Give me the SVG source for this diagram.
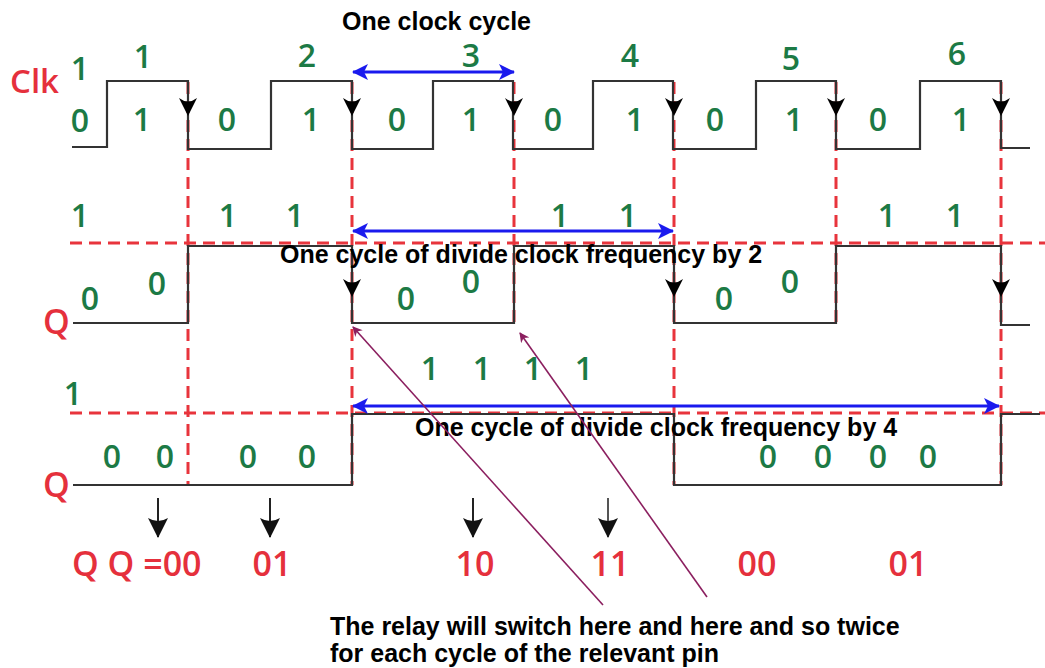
<svg xmlns="http://www.w3.org/2000/svg" width="1045" height="668" viewBox="0 0 1045 668">
<style>
.wave{fill:none;stroke:#333;stroke-width:2.2}
.dash{fill:none;stroke:#e8343c;stroke-width:3;stroke-dasharray:12 7}
.g{font-family:"Open Sans","DejaVu Sans",sans-serif;font-weight:600;font-size:32px;fill:#1c7a45;text-anchor:middle}
.r{font-family:"Open Sans","DejaVu Sans",sans-serif;font-weight:600;font-size:34px;fill:#e5303c}
.b{font-family:"Liberation Sans",Arial,sans-serif;font-weight:bold;font-size:25px;fill:#000}
.blue{stroke:#1a1aee;stroke-width:3;fill:none;marker-start:url(#bh);marker-end:url(#bh)}
.down{stroke:#222;stroke-width:2;fill:none;marker-end:url(#dh)}
.purple{stroke:#8b1f5f;stroke-width:1.6;fill:none;marker-end:url(#ph)}
.edge{fill:#000}
</style>
<defs>
<marker id="bh" viewBox="0 0 16 16" refX="15" refY="8" markerWidth="16" markerHeight="16" markerUnits="userSpaceOnUse" orient="auto-start-reverse">
<path d="M0,0 L16,8 L0,16 L4,8 Z" fill="#1a1aee"/>
</marker>
<marker id="dh" viewBox="0 0 20 20" refX="10" refY="19" markerWidth="20" markerHeight="20" markerUnits="userSpaceOnUse" orient="0">
<path d="M0,0 Q10,6 20,0 L10,20 Z" fill="#111"/>
</marker>
<marker id="ph" viewBox="0 0 10 10" refX="9" refY="5" markerWidth="10" markerHeight="10" markerUnits="userSpaceOnUse" orient="auto">
<path d="M0,0 L10,5 L0,10 L3,5 Z" fill="#8b1f5f"/>
</marker>
</defs>

<g id="grid">
<path class="dash" d="M70,243 H1045 M70,413 H1045"/>
<path class="dash" d="M188,82 V485 M352,82 V485 M514,82 V323 M674,82 V485 M836,82 V323 M1001,82 V485"/>
</g>

<g id="clk-wave">
<path class="wave" d="M72,147 H107 V81 H188 V149 H271 V81 H352 V149 H433 V81 H513 V149 H593 V81 H673 V149 H756 V81 H836 V149 H920 V81 H1001 V148 H1030"/>
<g class="edge">
<path d="M179,98 Q188,105 197,98 L188,116 Z"/>
<path d="M343,98 Q352,105 361,98 L352,116 Z"/>
<path d="M505,98 Q514,105 523,98 L514,116 Z"/>
<path d="M665,98 Q674,105 683,98 L674,116 Z"/>
<path d="M827,98 Q836,105 845,98 L836,116 Z"/>
<path d="M992,98 Q1001,105 1010,98 L1001,116 Z"/>
</g>
<text class="r" x="10" y="93" style="font-size:33px">Clk</text>
<text class="g" x="80" y="80">1</text>
<text class="g" x="80" y="132">0</text>
<text class="g" x="143" y="68">1</text>
<text class="g" x="307" y="67">2</text>
<text class="g" x="471" y="67">3</text>
<text class="g" x="630" y="67">4</text>
<text class="g" x="791" y="70">5</text>
<text class="g" x="957" y="65">6</text>
<text class="g" x="142" y="131">1</text>
<text class="g" x="227" y="131">0</text>
<text class="g" x="311" y="131">1</text>
<text class="g" x="397" y="131">0</text>
<text class="g" x="471" y="131">1</text>
<text class="g" x="553" y="131">0</text>
<text class="g" x="635" y="131">1</text>
<text class="g" x="715" y="131">0</text>
<text class="g" x="794" y="131">1</text>
<text class="g" x="878" y="131">0</text>
<text class="g" x="961" y="131">1</text>
</g>

<g id="q1-wave">
<path class="wave" d="M73,323 H188 V246 H352 V323 H514 V246 H674 V323 H836 V246 H1001 V325 H1030"/>
<g class="edge">
<path d="M343,279 Q352,286 361,279 L352,297 Z"/>
<path d="M665,279 Q674,286 683,279 L674,297 Z"/>
<path d="M992,279 Q1001,286 1010,279 L1001,297 Z"/>
</g>
<text class="r" x="43" y="334">Q</text>
<text class="g" x="80" y="227">1</text>
<text class="g" x="228" y="227">1</text>
<text class="g" x="295" y="227">1</text>
<text class="g" x="560" y="227">1</text>
<text class="g" x="628" y="227">1</text>
<text class="g" x="887" y="227">1</text>
<text class="g" x="955" y="227">1</text>
<text class="g" x="90" y="310">0</text>
<text class="g" x="157" y="295">0</text>
<text class="g" x="406" y="310">0</text>
<text class="g" x="471" y="293">0</text>
<text class="g" x="724" y="310">0</text>
<text class="g" x="790" y="293">0</text>
</g>

<g id="q2-wave">
<path class="wave" d="M73,485 H352 V414 H674 V485 H1001 V414 H1040"/>
<text class="r" x="43" y="497">Q</text>
<text class="g" x="73" y="405">1</text>
<text class="g" x="430" y="380">1</text>
<text class="g" x="482" y="380">1</text>
<text class="g" x="533" y="380">1</text>
<text class="g" x="584" y="380">1</text>
<text class="g" x="112" y="468">0</text>
<text class="g" x="165" y="468">0</text>
<text class="g" x="248" y="468">0</text>
<text class="g" x="307" y="468">0</text>
<text class="g" x="768" y="468">0</text>
<text class="g" x="823" y="468">0</text>
<text class="g" x="878" y="468">0</text>
<text class="g" x="928" y="468">0</text>
</g>

<g id="states">
<text class="r" x="72" y="576">Q Q =00</text>
<text class="r" x="272" y="576" text-anchor="middle">01</text>
<text class="r" x="475" y="576" text-anchor="middle">10</text>
<text class="r" x="610" y="576" text-anchor="middle">11</text>
<text class="r" x="757" y="576" text-anchor="middle">00</text>
<text class="r" x="908" y="576" text-anchor="middle">01</text>
</g>

<g id="labels">
<text class="b" x="342" y="30">One clock cycle</text>
<text class="b" x="280" y="263">One cycle of divide clock frequency by 2</text>
<text class="b" x="415" y="436">One cycle of divide clock frequency by 4</text>
<text class="b" x="330" y="635">The relay will switch here and here and so twice</text>
<text class="b" x="330" y="662">for each cycle of the relevant pin</text>
</g>

<g id="connectors">
<path class="blue" d="M353,72 H514"/>
<path class="blue" d="M353,231 H673"/>
<path class="blue" d="M353,406 H999"/>
<path class="down" d="M158,498 V537"/>
<path class="down" d="M270,498 V537"/>
<path class="down" d="M473,498 V537"/>
<path class="down" d="M608,498 V537" style="stroke:#555"/>
<path class="purple" d="M603,605 L353,327"/>
<path class="purple" d="M707,597 L520,333"/>
</g>
</svg>
